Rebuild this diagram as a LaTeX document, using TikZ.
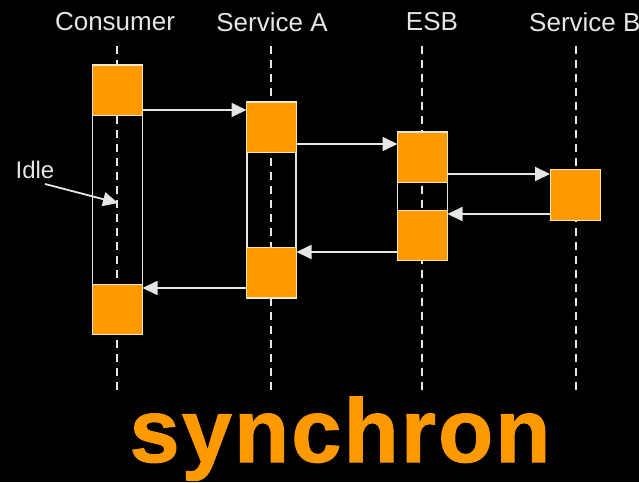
\documentclass[tikz,border=0pt]{standalone}
\usepackage{fontspec}
\setmainfont{Liberation Sans}
\newfontfamily\titlefont[FakeBold=1.2,LetterSpace=2.5]{Liberation Sans Bold}
\usetikzlibrary{arrows.meta}
\definecolor{org}{HTML}{FF9900}
\definecolor{edge}{HTML}{FFE8B0}
\definecolor{ln}{HTML}{E6E6E6}
\begin{document}
\begin{tikzpicture}[x=1pt,y=-1pt,
  act/.style={draw=edge,line width=1pt,fill=org,minimum width=50pt,minimum height=50pt,inner sep=0pt,outer sep=0pt},
  frame/.style={draw=ln,line width=1.4pt},
  life/.style={draw=ln,line width=1.6pt,dash pattern=on 8pt off 6pt},
  msg/.style={draw=ln,line width=1.8pt,-{Triangle[length=15pt,width=14pt]}},
  lbl/.style={text=ln,font=\fontsize{26}{28}\selectfont,inner sep=0pt}]
\fill[black] (0,0) rectangle (639,482);
\useasboundingbox (0,0) rectangle (639,482);
% labels
\node[lbl] (lc) at (115,22) {Consumer};
\node[lbl] (la) at (272,22) {Service A};
\node[lbl] (le) at (432,22) {ESB};
\node[lbl,anchor=west] (lb) at (529,22) {Service B};
% lifelines
\coordinate (ct) at (117,46); \coordinate (cb) at (117,394);
\coordinate (at) at (271,46); \coordinate (ab) at (271,394);
\coordinate (et) at (422,46); \coordinate (eb) at (422,394);
\coordinate (bt) at (576,46); \coordinate (bb) at (576,394);
\draw[life] (ct) -- (cb);
\draw[life] (at) -- (ab);
\draw[life] (et) -- (eb);
\draw[life] (bt) -- (bb);
% frames
\draw[frame] (92.5,65) rectangle (142.5,334);
\draw[frame] (247,102) rectangle (296,298);
\draw[frame] (397.5,132) rectangle (447.5,260);
% activation boxes
\node[act] (c1) at (117.5,90) {};
\node[act] (c2) at (117.5,309) {};
\node[act] (a1) at (271.5,127) {};
\node[act] (a2) at (271.5,272) {};
\node[act] (e1) at (422.5,157.5) {};
\node[act] (e2) at (422.5,235) {};
\node[act,minimum height=51pt] (b1) at (575,194.5) {};
% message levels
\coordinate (m1) at (0,110);
\coordinate (m2) at (0,144);
\coordinate (m3) at (0,174);
\coordinate (m4) at (0,214);
\coordinate (m5) at (0,252);
\coordinate (m6) at (0,288);
\draw[msg] (c1.east |- m1) -- (a1.west |- m1);
\draw[msg] (a1.east |- m2) -- (e1.west |- m2);
\draw[msg] (e1.east |- m3) -- (b1.west |- m3);
\draw[msg] (b1.west |- m4) -- (e2.east |- m4);
\draw[msg] (e2.west |- m5) -- (a2.east |- m5);
\draw[msg] (a2.west |- m6) -- (c2.east |- m6);
% idle
\node[lbl,font=\fontsize{24}{26}\selectfont] (idle) at (35,170) {Idle};
\coordinate (ip) at (118,203);
\draw[msg] (45,184) -- (ip);
% title
\node[text=org,font=\titlefont\fontsize{90}{94}\selectfont,inner sep=0pt,anchor=base] (title) at (340,462) {synchron};
\end{tikzpicture}
\end{document}
